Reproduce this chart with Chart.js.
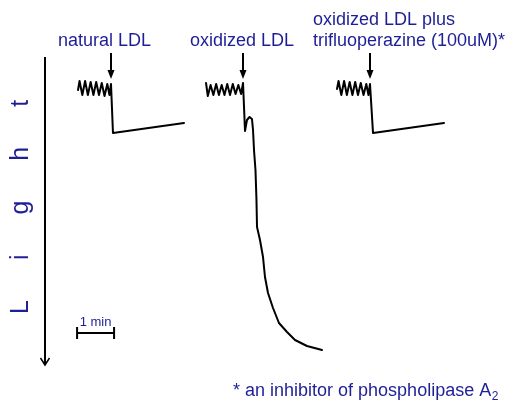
<!DOCTYPE html>
<html>
<head>
<meta charset="utf-8">
<script src="https://cdn.jsdelivr.net/npm/chart.js@4/dist/chart.umd.min.js"></script>
<style>
html,body{margin:0;padding:0;background:#fff;}
#wrap{width:506px;height:402px;}
</style>
</head>
<body>
<div id="wrap"><canvas id="c" width="506" height="402"></canvas></div>
<script>
// time in seconds, light in arbitrary units (increasing downward)
const time1 = [126.5,129.0,133.5,138.0,142.5,147.0,151.5,156.0,160.5,165.0,169.5,174.0,177.5,180.0,183.2,298.4];
const light1 = [10,1,15,1,15,2,15,2,15,3,16,4,15,4,53,43];

const time2 = [334.1,337.0,341.5,346.0,350.5,355.0,359.5,364.0,368.5,373.0,377.5,382.0,386.5,391.0,394.1,397.3,400.5,404.6,408.6,410.3,411.9,414.3,415.9,416.8,421.6,426.5,429.7,434.6,442.7,452.4,465.4,478.4,497.8,522.2];
const light2 = [3,16,5,15,4,15,5,15,4,15,4,14,5,14,3,51,40,37,39,50,70,90,120,147,160,177,197,213,228,243,252,260,266,270];

const time3 = [546.5,549.0,553.5,558.0,562.5,567.0,571.5,576.0,580.5,585.0,589.5,594.0,597.5,600.0,604.9,720.0];
const light3 = [9,1,15,1,15,2,15,2,15,3,15,4,15,4,53,43];

const arrowTimes = [180, 394, 600];
const arrowLight = [-27, -1];
const labels = ["natural LDL", "oxidized LDL", ["oxidized LDL plus", "trifluoperazine (100uM)*"]];
const axisTitle = "Light";
const scaleBarStart = 125;   // seconds
const scaleBarLength = 60;   // seconds (1 min)
const scaleBarLight = 253;
const scaleBarLabel = "1 min";
const footnote = "* an inhibitor of phospholipase A";
const footnoteSub = "2";

const BLUE = '#1e1e96';

function toPts(t, l){ return t.map((v,i)=>({x:v, y:l[i]})); }

const overlay = {
  id: 'overlay',
  afterDatasetsDraw(chart){
    const ctx = chart.ctx;
    const xs = chart.scales.x, ys = chart.scales.y;
    ctx.save();
    // addition arrows
    ctx.strokeStyle = '#000'; ctx.fillStyle = '#000'; ctx.lineWidth = 2;
    arrowTimes.forEach(t=>{
      const x = Math.round(xs.getPixelForValue(t));
      const y0 = ys.getPixelForValue(arrowLight[0]);
      const y1 = ys.getPixelForValue(arrowLight[1]);
      ctx.beginPath(); ctx.moveTo(x, y0); ctx.lineTo(x, y1-6); ctx.stroke();
      ctx.beginPath(); ctx.moveTo(x-3.5, y1-9); ctx.lineTo(x+3.5, y1-9); ctx.lineTo(x, y1); ctx.closePath(); ctx.fill();
    });
    // light axis
    ctx.beginPath(); ctx.moveTo(45, 57); ctx.lineTo(45, 364); ctx.stroke();
    ctx.lineWidth = 1.5;
    ctx.beginPath(); ctx.moveTo(40.5, 358); ctx.lineTo(45, 365); ctx.lineTo(49.5, 358); ctx.stroke();
    // scale bar
    const sx0 = xs.getPixelForValue(scaleBarStart), sx1 = xs.getPixelForValue(scaleBarStart + scaleBarLength);
    const sy = ys.getPixelForValue(scaleBarLight);
    ctx.lineWidth = 2;
    ctx.beginPath(); ctx.moveTo(sx0, sy); ctx.lineTo(sx1, sy); ctx.stroke();
    ctx.beginPath(); ctx.moveTo(sx0, sy-6); ctx.lineTo(sx0, sy+6); ctx.moveTo(sx1, sy-6); ctx.lineTo(sx1, sy+6); ctx.stroke();
    // texts
    ctx.fillStyle = BLUE;
    ctx.textBaseline = 'alphabetic';
    ctx.font = '13px "Liberation Sans", Arial, sans-serif';
    ctx.textAlign = 'center';
    ctx.fillText(scaleBarLabel, (sx0+sx1)/2, sy-7);
    ctx.textAlign = 'left';
    ctx.font = '18px "Liberation Sans", Arial, sans-serif';
    ctx.fillText(labels[0], 58, 46);
    ctx.fillText(labels[1], 190, 46);
    ctx.fillText(labels[2][0], 313, 25);
    ctx.fillText(labels[2][1], 313, 46);
    ctx.fillText(footnote, 233, 396);
    const fw = ctx.measureText(footnote).width;
    ctx.font = '12px "Liberation Sans", Arial, sans-serif';
    ctx.fillText(footnoteSub, 233 + fw + 0.5, 400);
    // axis title, rotated with wide letter spacing
    ctx.save();
    ctx.translate(28, 314);
    ctx.rotate(-Math.PI/2);
    ctx.font = '25px "Liberation Sans", Arial, sans-serif';
    if ('letterSpacing' in ctx) {
      ctx.letterSpacing = '40px';
      ctx.fillText(axisTitle, 0, 0);
    } else {
      let x = 0;
      for (const ch of axisTitle) { ctx.fillText(ch, x, 0); x += ctx.measureText(ch).width + 40; }
    }
    ctx.restore();
    ctx.restore();
  }
};

const ds = (t,l)=>({data: toPts(t,l), showLine:true, borderColor:'#000', borderWidth:2, pointRadius:0, tension:0, borderJoinStyle:'round', borderCapStyle:'round', fill:false});

new Chart(document.getElementById('c'), {
  type: 'scatter',
  data: { datasets: [ds(time1,light1), ds(time2,light2), ds(time3,light3)] },
  options: {
    responsive: false,
    animation: false,
    devicePixelRatio: 1,
    layout: { padding: 0 },
    plugins: { legend: {display:false}, tooltip: {enabled:false} },
    scales: {
      x: { type:'linear', min:0, max:506*60/37, display:false },
      y: { type:'linear', min:-80, max:322, reverse:true, display:false }
    }
  },
  plugins: [overlay]
});
</script>
</body>
</html>
